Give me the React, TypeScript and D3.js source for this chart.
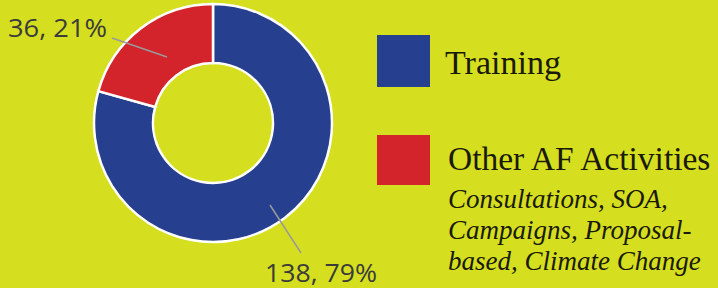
import React from "react";
import * as d3 from "d3";

const categories = ["Training", "Other AF Activities"];
const values = [138, 36];
const percentLabels = ["79%", "21%"];
const colors = ["#263f8f", "#d3232b"];
const subLines = ["Consultations, SOA,", "Campaigns, Proposal-", "based, Climate Change"];

export default function App() {
  const W = 718, H = 288;
  const cx = 213, cy = 123, rOuter = 119, rInner = 60;
  const pie = d3.pie<number>().sort(null).value((d) => d);
  const arcs = pie(values);
  const arc = d3.arc<d3.PieArcDatum<number>>().innerRadius(rInner).outerRadius(rOuter);
  const labelPos = [
    { x: 265, y: 282, lx1: 270, ly1: 205, lx2: 301, ly2: 253, len: 112 },
    { x: 8, y: 37, lx1: 112, ly1: 38, lx2: 167, ly2: 57, len: 99 },
  ];
  return (
    <div style={{ position: "fixed", left: 0, top: 0, width: W, height: H, background: "#d5df1f" }}>
      <svg width={W} height={H} style={{ display: "block" }}>
        <rect width={W} height={H} fill="#d5df1f" />
        <g transform={`translate(${cx},${cy})`}>
          {arcs.map((a, i) => (
            <path key={i} d={arc(a) || ""} fill={colors[i]} stroke="#ffffff" strokeWidth={2.5} />
          ))}
        </g>
        {arcs.map((a, i) => {
          const p = labelPos[i];
          return (
            <g key={"l" + i}>
              <line x1={p.lx1} y1={p.ly1} x2={p.lx2} y2={p.ly2} stroke="#9a9a9a" strokeWidth={1.5} />
              <text x={p.x} y={p.y} fontFamily="'Open Sans', 'Noto Sans', sans-serif" fontSize={25.5}
                fill="#3b3b3b" textLength={p.len} lengthAdjust="spacingAndGlyphs">
                {`${values[i]}, ${percentLabels[i]}`}
              </text>
            </g>
          );
        })}
        <rect x={377} y={35} width={53} height={52} fill={colors[0]} />
        <text x={445} y={74} fontFamily="'Liberation Serif', 'DejaVu Serif', serif" fontSize={34} fill="#1a1a0a">
          {categories[0]}
        </text>
        <rect x={377} y={135} width={53} height={50} fill={colors[1]} />
        <text x={448} y={170} fontFamily="'Liberation Serif', 'DejaVu Serif', serif" fontSize={33.5} fill="#1a1a0a">
          {categories[1]}
        </text>
        {subLines.map((s, i) => (
          <text key={s} x={448} y={208 + i * 31} fontFamily="'Liberation Serif', 'DejaVu Serif', serif"
            fontStyle="italic" fontSize={27} fill="#1a1a0a">
            {s}
          </text>
        ))}
      </svg>
    </div>
  );
}
